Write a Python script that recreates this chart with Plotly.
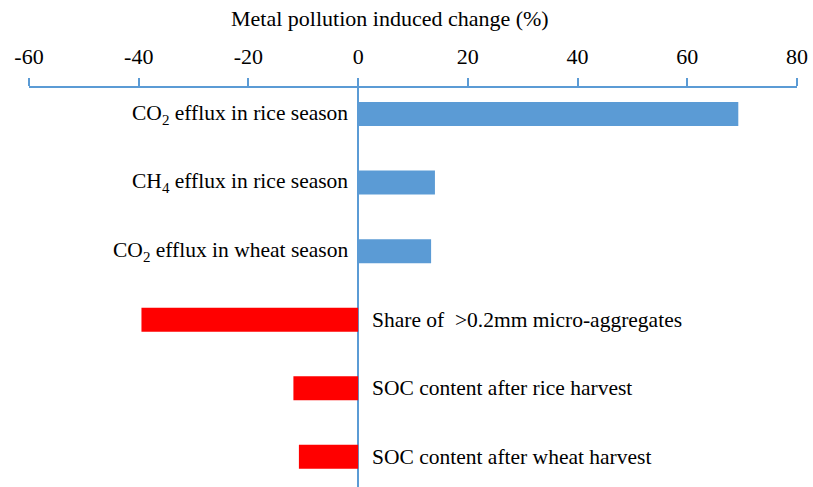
import plotly.graph_objects as go

categories = [
    "CO<sub>2</sub> efflux in rice season",
    "CH<sub>4</sub> efflux in rice season",
    "CO<sub>2</sub> efflux in wheat season",
    "Share of  >0.2mm micro-aggregates",
    "SOC content after rice harvest",
    "SOC content after wheat harvest",
]
values = [69.3, 14.0, 13.3, -39.5, -11.8, -10.8]
tick_vals = [-60, -40, -20, 0, 20, 40, 60, 80]
tick_text = ["-60", "-40", "-20", "0", "20", "40", "60", "80"]
x_title = "Metal pollution induced change (%)"

BLUE = "#5B9BD5"
RED = "#FF0000"
FONT = "Liberation Serif"

colors = [BLUE if v > 0 else RED for v in values]

fig = go.Figure(go.Bar(
    x=values, y=categories, orientation="h",
    marker=dict(color=colors, line=dict(width=0)),
    width=0.35, hoverinfo="skip",
))

for c, v in zip(categories, values):
    fig.add_annotation(
        x=0, y=c, text=c, showarrow=False,
        xanchor="right" if v > 0 else "left",
        xshift=-8 if v > 0 else 12,
        font=dict(family=FONT, size=21.5, color="black"),
    )

fig.add_annotation(
    xref="paper", yref="paper", x=0.47, y=1, yanchor="middle", yshift=70,
    text=x_title, showarrow=False,
    font=dict(family=FONT, size=22, color="black"),
)

fig.update_layout(
    width=813, height=487,
    margin=dict(l=29, r=16, t=88, b=0),
    plot_bgcolor="white", paper_bgcolor="white",
    showlegend=False,
    font=dict(family=FONT, size=21.5, color="black"),
    xaxis=dict(
        side="top", range=[-60, 80], tickvals=tick_vals, ticktext=tick_text,
        automargin=False,
        showgrid=False, showline=True, linecolor=BLUE, linewidth=1.5,
        ticks="outside", ticklen=8, tickcolor=BLUE, tickwidth=1.5,
        ticklabelstandoff=5,
        tickfont=dict(family=FONT, size=22, color="black"),
        zeroline=True, zerolinecolor=BLUE, zerolinewidth=1.5,
    ),
    yaxis=dict(
        categoryorder="array", categoryarray=categories,
        range=[5.44, -0.38], showticklabels=False, showgrid=False,
        showline=False, zeroline=False, ticks="", automargin=False,
    ),
)

# remove the browser's default body margin so the figure fills the window exactly
fig.write_html(
    "out.html",
    config={"displayModeBar": False},
    post_script="document.body.style.margin='0';document.body.style.overflow='hidden';",
)
